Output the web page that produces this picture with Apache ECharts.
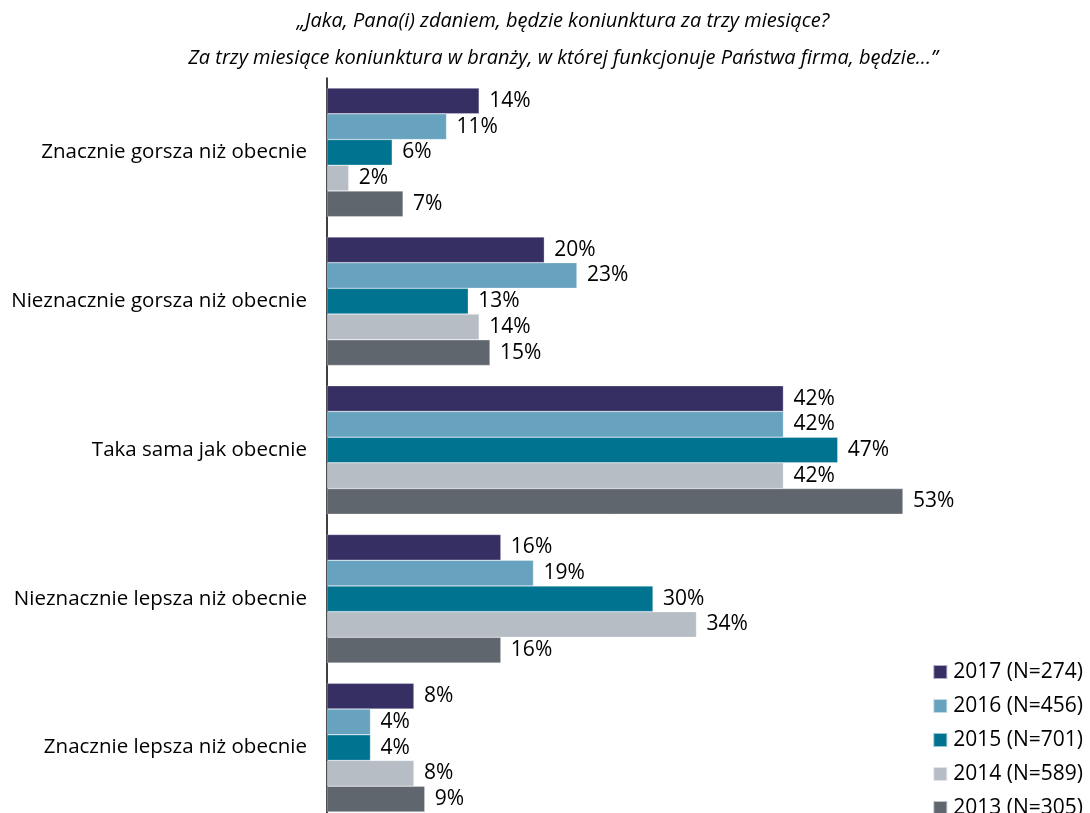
<!DOCTYPE html>
<html>
<head>
<meta charset="utf-8">
<script src="https://cdn.jsdelivr.net/npm/echarts@6/dist/echarts.min.js"></script>
<style>
  html, body { margin: 0; padding: 0; background: #fff; overflow: hidden; }
  /* canvas is a little taller than the window so the last group runs to the edge */
  #chart { width: 1090px; height: 830px; }
</style>
</head>
<body>
<div id="chart"></div>
<script>
// Answer categories (top to bottom)
const categories = [
  'Znacznie gorsza niż obecnie',
  'Nieznacznie gorsza niż obecnie',
  'Taka sama jak obecnie',
  'Nieznacznie lepsza niż obecnie',
  'Znacznie lepsza niż obecnie'
];

// Survey waves
const seriesNames = ['2017 (N=274)', '2016 (N=456)', '2015 (N=701)', '2014 (N=589)', '2013 (N=305)'];

// Share of answers, %
const v2017 = [14, 20, 42, 16, 8];
const v2016 = [11, 23, 42, 19, 4];
const v2015 = [6, 13, 47, 30, 4];
const v2014 = [2, 14, 42, 34, 8];
const v2013 = [7, 15, 53, 16, 9];

const colors = ['#352f63', '#67a3bf', '#007391', '#b6bdc5', '#5f666e'];
const values = [v2017, v2016, v2015, v2014, v2013];

const font = '"Open Sans", "Liberation Sans", sans-serif';

const chart = echarts.init(document.getElementById('chart'), null, { renderer: 'canvas' });

chart.setOption({
  animation: false,
  backgroundColor: '#ffffff',
  title: {
    text: '„Jaka, Pana(i) zdaniem, będzie koniunktura za trzy miesiące?\nZa trzy miesiące koniunktura w branży, w której funkcjonuje Państwa firma, będzie...”',
    left: 558,
    textAlign: 'center',
    top: -2,
    textStyle: {
      fontFamily: font,
      fontStyle: 'italic',
      fontWeight: 'normal',
      fontSize: 20,
      lineHeight: 37,
      color: '#000'
    }
  },
  legend: {
    orient: 'vertical',
    right: 2,
    top: 654,
    height: 176,
    itemWidth: 14,
    itemHeight: 14,
    itemGap: 8,
    icon: 'rect',
    textStyle: { fontFamily: font, fontSize: 21, lineHeight: 26, color: '#000', padding: [0, 0, 0, 1] },
    data: seriesNames
  },
  grid: { left: 327, top: 78, width: 652, height: 744, containLabel: false },
  xAxis: {
    type: 'value',
    min: 0,
    max: 60,
    show: false
  },
  yAxis: {
    type: 'category',
    inverse: true,
    data: categories,
    axisLine: { show: true, lineStyle: { color: '#000', width: 1.5 } },
    axisTick: { show: false },
    axisLabel: { fontFamily: font, fontSize: 20.5, color: '#000', margin: 20 }
  },
  series: seriesNames.map((name, i) => ({
    name: name,
    type: 'bar',
    data: values[i],
    barGap: '0%',
    barCategoryGap: '13.6%',
    itemStyle: { color: colors[i], borderColor: 'rgba(255,255,255,0.6)', borderWidth: 0.5 },
    label: {
      show: true,
      position: 'right',
      distance: 10,
      formatter: '{c}%',
      fontFamily: font,
      fontSize: 21,
      color: '#000'
    }
  }))
});
</script>
</body>
</html>
